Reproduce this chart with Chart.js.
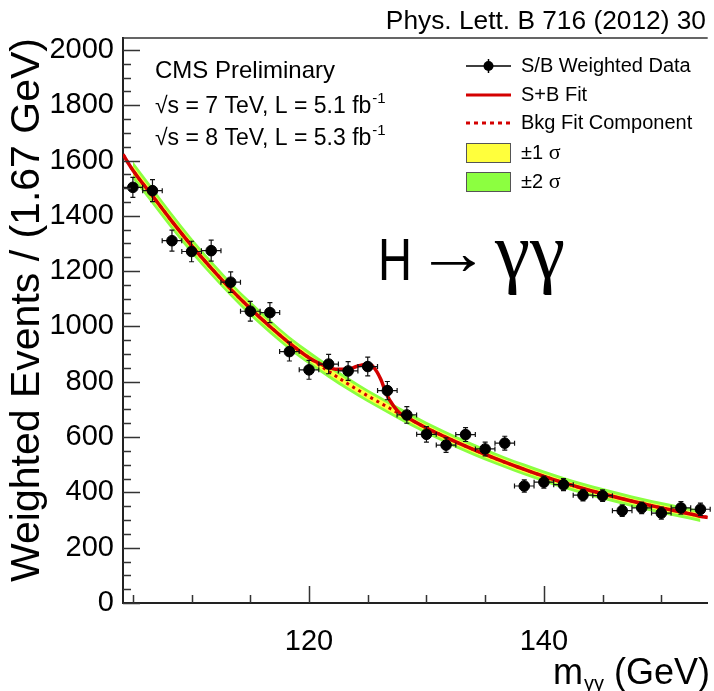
<!DOCTYPE html>
<html>
<head>
<meta charset="utf-8">
<script src="https://cdn.jsdelivr.net/npm/chart.js@4.4.1/dist/chart.umd.min.js"></script>
<style>
  html, body { margin: 0; padding: 0; background: #fff; }
  #wrap { width: 714px; height: 691px; }
</style>
</head>
<body>
<div id="wrap"><canvas id="chart" width="714" height="691"></canvas></div>
<script>
// S/B weighted diphoton mass spectrum
const massBins = [105.00, 106.67, 108.33, 110.00, 111.67, 113.33, 115.00, 116.67, 118.33, 120.00,
                  121.67, 123.33, 125.00, 126.67, 128.33, 130.00, 131.67, 133.33, 135.00, 136.67,
                  138.33, 140.00, 141.67, 143.33, 145.00, 146.67, 148.33, 150.00, 151.67, 153.33];
const weightedEvents = [1503, 1491, 1310, 1271, 1274, 1160, 1055, 1050, 909, 843,
                        864, 839, 855, 768, 680, 610, 571, 609, 557, 578,
                        423, 437, 428, 390, 388, 334, 344, 325, 344, 339];
const eventErrors = [36, 40, 38, 37, 38, 37, 36, 36, 34, 34,
                     35, 34, 34, 33, 30, 28, 26, 25, 25, 25,
                     22, 22, 22, 21, 21, 21, 21, 22, 23, 22];
const binHalfWidth = 0.833;

// background fit component at the bin centres, plus its value at the frame edges
const bkgAtBins = [1565, 1472, 1380, 1292, 1211, 1135, 1065, 1000, 940, 887,
                   838, 792, 749, 709, 670, 633, 599, 567, 537, 509,
                   483, 458, 435, 414, 395, 377, 360, 344, 329, 314];
const massRange = [104.16, 153.95];
const bkgEdges = [1622, 309];

// signal + background fit
const sbMass = [104.16, 105.00, 106.67, 108.33, 110.00, 111.67, 113.33, 115.00, 116.67, 118.33,
                120.00, 120.8, 121.6, 122.4, 123.3, 124.1, 125.0, 125.5, 126.1, 126.6,
                127.2, 127.7, 128.33, 130.00, 131.67, 133.33, 135.00, 136.67, 138.33, 140.00,
                141.67, 143.33, 145.00, 146.67, 148.33, 150.00, 151.67, 153.33, 153.95];
const sbFit = [1622, 1565, 1472, 1380, 1292, 1211, 1135, 1065, 1000, 940,
               887, 868, 853, 845, 845, 856, 864, 853, 810, 755,
               712, 688, 672, 633, 599, 567, 537, 509, 483, 458,
               435, 414, 395, 377, 360, 344, 329, 314, 309];

// half widths of the 1 and 2 sigma bands at each bin centre
const bandOneSigma = [16, 15, 15, 14, 14, 14, 13, 13, 13, 12, 12, 12, 12, 12, 11,
                      11, 11, 11, 11, 11, 11, 10, 10, 10, 10, 10, 10, 10, 10, 10];
const bandTwoSigma = [32, 31, 30, 29, 28, 27, 27, 26, 25, 25, 24, 24, 23, 23, 23,
                      22, 22, 22, 22, 21, 21, 21, 21, 21, 21, 21, 21, 21, 21, 21];

const xTickLabels = [120, 140];
const yTickLabels = [0, 200, 400, 600, 800, 1000, 1200, 1400, 1600, 1800, 2000];
const xMinorStep = 5;
const yMinorStep = 50;
const yMax = 2043;

const SANS = "'Liberation Sans', Arial, Helvetica, sans-serif";
const SERIF = "'Liberation Serif', 'Times New Roman', serif";
const RED = '#d40000';
const YELLOW = '#ffff3c';
const GREEN = '#8cff40';

const bkgCurve = [{ x: massRange[0], y: bkgEdges[0] }]
  .concat(massBins.map((m, i) => ({ x: m, y: bkgAtBins[i] })))
  .concat([{ x: massRange[1], y: bkgEdges[1] }]);
const band = (arr, sign) => massBins.map((m, i) => ({ x: m, y: bkgAtBins[i] + sign * arr[i] }));

function lineSet(label, data, extra) {
  return Object.assign({
    label, data, pointRadius: 0, borderWidth: 0, borderColor: 'transparent',
    fill: false, cubicInterpolationMode: 'monotone'
  }, extra);
}

// draw text squeezed or stretched to a given width
function fitText(ctx, t, x, y, width) {
  const w = ctx.measureText(t).width;
  ctx.save();
  ctx.translate(x, y);
  ctx.scale(width / w, 1);
  ctx.fillText(t, 0, 0);
  ctx.restore();
}

// error bars, drawn just before the markers
const errorBars = {
  id: 'errorBars',
  beforeDatasetDraw(chart, args) {
    if (args.index !== 0) return;
    const ctx = chart.ctx, xs = chart.scales.x, ys = chart.scales.y;
    ctx.save();
    ctx.strokeStyle = '#111';
    ctx.lineWidth = 1.2;
    ctx.beginPath();
    massBins.forEach((m, i) => {
      const px = xs.getPixelForValue(m), py = ys.getPixelForValue(weightedEvents[i]);
      const x0 = xs.getPixelForValue(m - binHalfWidth), x1 = xs.getPixelForValue(m + binHalfWidth);
      const y0 = ys.getPixelForValue(weightedEvents[i] + eventErrors[i]);
      const y1 = ys.getPixelForValue(weightedEvents[i] - eventErrors[i]);
      ctx.moveTo(x0, py); ctx.lineTo(x1, py);
      ctx.moveTo(px, y0); ctx.lineTo(px, y1);
      ctx.moveTo(x0, py - 2.5); ctx.lineTo(x0, py + 2.5);
      ctx.moveTo(x1, py - 2.5); ctx.lineTo(x1, py + 2.5);
      ctx.moveTo(px - 2.5, y0); ctx.lineTo(px + 2.5, y0);
      ctx.moveTo(px - 2.5, y1); ctx.lineTo(px + 2.5, y1);
    });
    ctx.stroke();
    ctx.restore();
  }
};

// ROOT style frame: inside ticks and top line
const frame = {
  id: 'frame',
  afterDraw(chart) {
    const ctx = chart.ctx, xs = chart.scales.x, ys = chart.scales.y, a = chart.chartArea;
    ctx.save();
    ctx.strokeStyle = '#333';
    ctx.lineWidth = 1.5;
    ctx.beginPath();
    ctx.moveTo(a.left, a.top); ctx.lineTo(a.right, a.top);
    for (let v = 0; v <= yMax; v += yMinorStep) {
      const py = Math.round(ys.getPixelForValue(v)) + 0.5;
      const len = yTickLabels.includes(v) ? 17 : 8;
      ctx.moveTo(a.left, py); ctx.lineTo(a.left + len, py);
    }
    for (let v = Math.ceil(massRange[0] / xMinorStep) * xMinorStep; v <= massRange[1]; v += xMinorStep) {
      const px = Math.round(xs.getPixelForValue(v)) + 0.5;
      const len = xTickLabels.includes(v) ? 17 : 8;
      ctx.moveTo(px, a.bottom); ctx.lineTo(px, a.bottom - len);
    }
    ctx.stroke();
    ctx.restore();
  }
};

const texts = {
  id: 'texts',
  afterDraw(chart) {
    const ctx = chart.ctx;
    ctx.save();
    ctx.fillStyle = '#000';
    ctx.textBaseline = 'alphabetic';

    ctx.textAlign = 'right';
    ctx.font = `26.3px ${SANS}`;
    ctx.fillText('Phys. Lett. B 716 (2012) 30', 706, 29);

    ctx.textAlign = 'left';
    ctx.font = `24px ${SANS}`;
    ctx.fillText('CMS Preliminary', 155, 78);
    [['√s = 7 TeV, L = 5.1 fb', 113], ['√s = 8 TeV, L = 5.3 fb', 145]].forEach(([t, y]) => {
      ctx.font = `23px ${SANS}`;
      ctx.fillText(t, 155, y);
      const w = ctx.measureText(t).width;
      ctx.font = `15px ${SANS}`;
      ctx.fillText('-1', 155 + w + 1, y - 10);
    });

    // H -> gamma gamma
    ctx.font = `60px ${SANS}`;
    fitText(ctx, 'H', 378, 280, 34);
    ctx.font = `64px ${SANS}`;
    fitText(ctx, '→', 416, 274, 74);
    ctx.font = `80px ${SERIF}`;
    fitText(ctx, 'γγ', 495, 278, 70);

    // x axis title
    ctx.font = `36px ${SANS}`;
    ctx.textAlign = 'right';
    ctx.fillText('(GeV)', 710, 684);
    ctx.textAlign = 'left';
    ctx.fillText('m', 553, 684);
    ctx.font = `20px ${SANS}`;
    ctx.fillText('γγ', 584, 690);

    // legend
    const lx0 = 466, lx1 = 511, tx = 521;
    const rows = [66, 95, 123, 153, 182];
    ctx.lineWidth = 1.5;
    ctx.strokeStyle = '#000';
    ctx.beginPath();
    ctx.moveTo(lx0, rows[0]); ctx.lineTo(lx1, rows[0]);
    ctx.moveTo(488.5, rows[0] - 7); ctx.lineTo(488.5, rows[0] + 7);
    ctx.stroke();
    ctx.beginPath();
    ctx.arc(488.5, rows[0], 5, 0, Math.PI * 2);
    ctx.fill();

    ctx.strokeStyle = RED;
    ctx.lineWidth = 3;
    ctx.beginPath();
    ctx.moveTo(lx0, rows[1]); ctx.lineTo(lx1, rows[1]);
    ctx.stroke();
    ctx.setLineDash([4, 4]);
    ctx.beginPath();
    ctx.moveTo(lx0, rows[2]); ctx.lineTo(lx1, rows[2]);
    ctx.stroke();
    ctx.setLineDash([]);

    ctx.lineWidth = 1;
    ctx.strokeStyle = '#555';
    [[rows[3], YELLOW], [rows[4], GREEN]].forEach(([y, c]) => {
      ctx.fillStyle = c;
      ctx.fillRect(lx0, y - 10, lx1 - lx0, 20);
      ctx.strokeRect(lx0 + 0.5, y - 9.5, lx1 - lx0 - 1, 19);
    });

    ctx.fillStyle = '#000';
    ctx.textBaseline = 'middle';
    ctx.font = `20px ${SANS}`;
    ctx.fillText('S/B Weighted Data', tx, rows[0]);
    ctx.fillText('S+B Fit', tx, rows[1]);
    ctx.fillText('Bkg Fit Component', tx, rows[2]);
    ['±1 ', '±2 '].forEach((t, i) => {
      ctx.font = `20px ${SANS}`;
      ctx.fillText(t, tx, rows[3 + i]);
      const w = ctx.measureText(t).width;
      ctx.font = `22px ${SERIF}`;
      ctx.fillText('σ', tx + w, rows[3 + i]);
    });
    ctx.restore();
  }
};

new Chart(document.getElementById('chart'), {
  type: 'line',
  data: {
    datasets: [
      {
        label: 'S/B Weighted Data',
        data: massBins.map((m, i) => ({ x: m, y: weightedEvents[i] })),
        showLine: false, pointRadius: 5.3, pointHoverRadius: 5.3,
        pointBackgroundColor: '#000', pointBorderColor: '#000', borderColor: '#000', order: 0
      },
      lineSet('S+B Fit', sbMass.map((m, i) => ({ x: m, y: sbFit[i] })),
        { borderColor: RED, borderWidth: 3.5, order: 1 }),
      lineSet('Bkg Fit Component', bkgCurve,
        { borderColor: RED, borderWidth: 3, borderDash: [3, 4], order: 2 }),
      lineSet('1 sigma up', band(bandOneSigma, 1), { order: 3 }),
      lineSet('1 sigma down', band(bandOneSigma, -1), { order: 3, fill: '-1', backgroundColor: YELLOW }),
      lineSet('2 sigma up', band(bandTwoSigma, 1), { order: 4 }),
      lineSet('2 sigma down', band(bandTwoSigma, -1), { order: 4, fill: '-1', backgroundColor: GREEN })
    ]
  },
  options: {
    responsive: false,
    animation: false,
    devicePixelRatio: 1,
    layout: { padding: { left: 0, right: 0, top: 38, bottom: 0 } },
    plugins: { legend: { display: false }, tooltip: { enabled: false } },
    scales: {
      x: {
        type: 'linear', min: massRange[0], max: massRange[1],
        afterBuildTicks: s => { s.ticks = xTickLabels.map(v => ({ value: v })); },
        afterFit: s => { s.height = 88; },
        grid: { display: false, drawTicks: false, tickLength: 0 },
        border: { display: true, color: '#222', width: 2 },
        ticks: { color: '#000', font: { family: SANS, size: 29 }, padding: 22, maxRotation: 0, autoSkip: false,
                 callback: v => String(v) }
      },
      y: {
        min: 0, max: yMax,
        afterBuildTicks: s => { s.ticks = yTickLabels.map(v => ({ value: v })); },
        afterFit: s => { s.width = 123; },
        grid: { display: false, drawTicks: false, tickLength: 0 },
        border: { display: true, color: '#222', width: 2 },
        ticks: { color: '#000', font: { family: SANS, size: 29 }, padding: 9, autoSkip: false,
                 callback: v => String(v) },
        title: { display: true, text: 'Weighted Events / (1.67 GeV)', align: 'end', color: '#000',
                 font: { family: SANS, size: 41 }, padding: { top: 3, bottom: 0 } }
      }
    }
  },
  plugins: [errorBars, frame, texts]
});
</script>
</body>
</html>
